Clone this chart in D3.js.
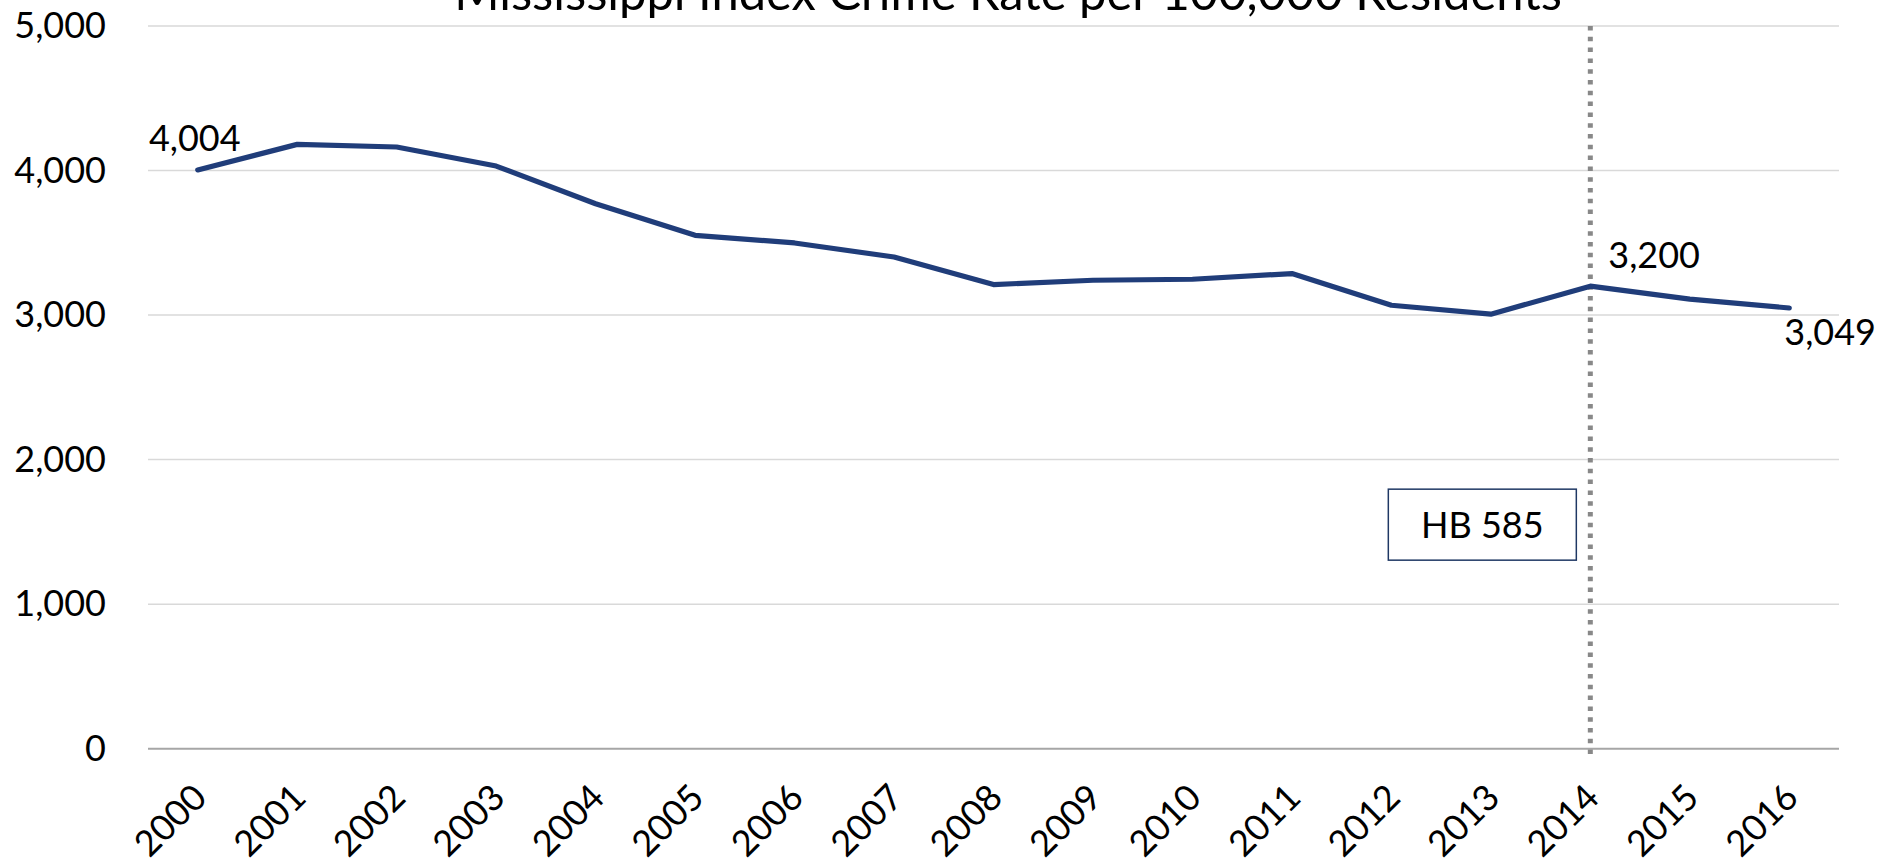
<!DOCTYPE html>
<html>
<head>
<meta charset="utf-8">
<script src="https://cdn.jsdelivr.net/npm/d3@7/dist/d3.min.js"></script>
<style>
  html, body { margin: 0; padding: 0; background: #fff; }
  svg { display: block; }
  text { font-family: Lato, "Open Sans", sans-serif; fill: #000; }
</style>
</head>
<body>
<svg id="chart" width="1893" height="866"></svg>
<script>
// Mississippi index crime rate, per 100,000 residents
const years = ["2000","2001","2002","2003","2004","2005","2006","2007","2008",
               "2009","2010","2011","2012","2013","2014","2015","2016"];
const crimeRate = [4004, 4181, 4163, 4031, 3770, 3552, 3499, 3402, 3211,
                   3241, 3248, 3287, 3068, 3006, 3200, 3110, 3049];
const yTicks = [0, 1000, 2000, 3000, 4000, 5000];
const titleText = "Mississippi Index Crime Rate per 100,000 Residents";
const markerYear = "2014";
const markerLabel = "HB 585";
// years whose value is printed next to the line
const labelledYears = ["2000", "2014", "2016"];

const W = 1893, H = 866;
const plot = { left: 148, right: 1839, top: 26, bottom: 748.7 };

const svg = d3.select("#chart");

const x = d3.scaleBand().domain(years).range([plot.left, plot.right]).padding(0);
const cx = d => x(d) + x.bandwidth() / 2;
const y = d3.scaleLinear().domain([0, 5000]).range([plot.bottom, plot.top]);
const fmt = d3.format(",");

// horizontal gridlines
svg.append("g").selectAll("line")
  .data(yTicks.filter(t => t > 0))
  .join("line")
  .attr("x1", plot.left).attr("x2", plot.right)
  .attr("y1", d => y(d)).attr("y2", d => y(d))
  .attr("stroke", "#d9d9d9").attr("stroke-width", 1.5);

// y axis labels
const yAxis = d3.axisLeft(y).tickValues(yTicks).tickFormat(fmt).tickSize(0).tickPadding(0);
const yG = svg.append("g").attr("transform", `translate(${plot.left - 42},0)`).call(yAxis);
yG.select(".domain").remove();
yG.selectAll("text")
  .attr("font-family", "Lato, 'Open Sans', sans-serif")
  .attr("font-size", 36).attr("fill", "#000");

// category axis baseline
svg.append("line")
  .attr("x1", plot.left).attr("x2", plot.right)
  .attr("y1", y(0)).attr("y2", y(0))
  .attr("stroke", "#a6a6a6").attr("stroke-width", 2);

// rotated year labels
svg.append("g").selectAll("text")
  .data(years)
  .join("text")
  .attr("transform", d => `translate(${cx(d) + 2},${y(0) + 42}) rotate(-45)`)
  .attr("text-anchor", "end")
  .attr("dy", "0.35em")
  .attr("font-size", 36)
  .text(d => d);

// dotted marker line for the legislation year
svg.append("line")
  .attr("x1", cx(markerYear)).attr("x2", cx(markerYear))
  .attr("y1", y(5000)).attr("y2", y(0) + 10)
  .attr("stroke", "#888888").attr("stroke-width", 5)
  .attr("stroke-dasharray", "4.5 6.3");

// crime-rate line
const line = d3.line().x((d, i) => cx(years[i])).y(d => y(d));
svg.append("path")
  .datum(crimeRate)
  .attr("d", line)
  .attr("fill", "none")
  .attr("stroke", "#203d7a")
  .attr("stroke-width", 5.2)
  .attr("stroke-linejoin", "round")
  .attr("stroke-linecap", "round");

// value labels
const labelOffsets = {
  "2000": { dx: -3, dy: -19, anchor: "middle" },
  "2014": { dx: 18, dy: -18, anchor: "start" },
  "2016": { dx: -5, dy: 37, anchor: "start" }
};
svg.append("g").selectAll("text")
  .data(labelledYears)
  .join("text")
  .attr("x", d => cx(d) + labelOffsets[d].dx)
  .attr("y", d => y(crimeRate[years.indexOf(d)]) + labelOffsets[d].dy)
  .attr("text-anchor", d => labelOffsets[d].anchor)
  .attr("font-size", 36)
  .text(d => fmt(crimeRate[years.indexOf(d)]));

// legislation callout box
const boxW = 188, boxH = 71;
const boxCx = cx(markerYear) - 108, boxCy = y(1550);
svg.append("rect")
  .attr("x", boxCx - boxW / 2).attr("y", boxCy - boxH / 2)
  .attr("width", boxW).attr("height", boxH)
  .attr("fill", "#fff").attr("stroke", "#1f3864").attr("stroke-width", 1.5);
svg.append("text")
  .attr("x", boxCx).attr("y", boxCy)
  .attr("dy", "0.36em")
  .attr("text-anchor", "middle")
  .attr("font-size", 36)
  .text(markerLabel);

// chart title (partly above the top edge)
const title = svg.append("text")
  .attr("x", 1008).attr("y", 10)
  .attr("text-anchor", "middle")
  .attr("font-size", 44)
  .text(titleText);
const tw = title.node().getComputedTextLength();
title.attr("font-size", 44 * 1108 / tw);
</script>
</body>
</html>
